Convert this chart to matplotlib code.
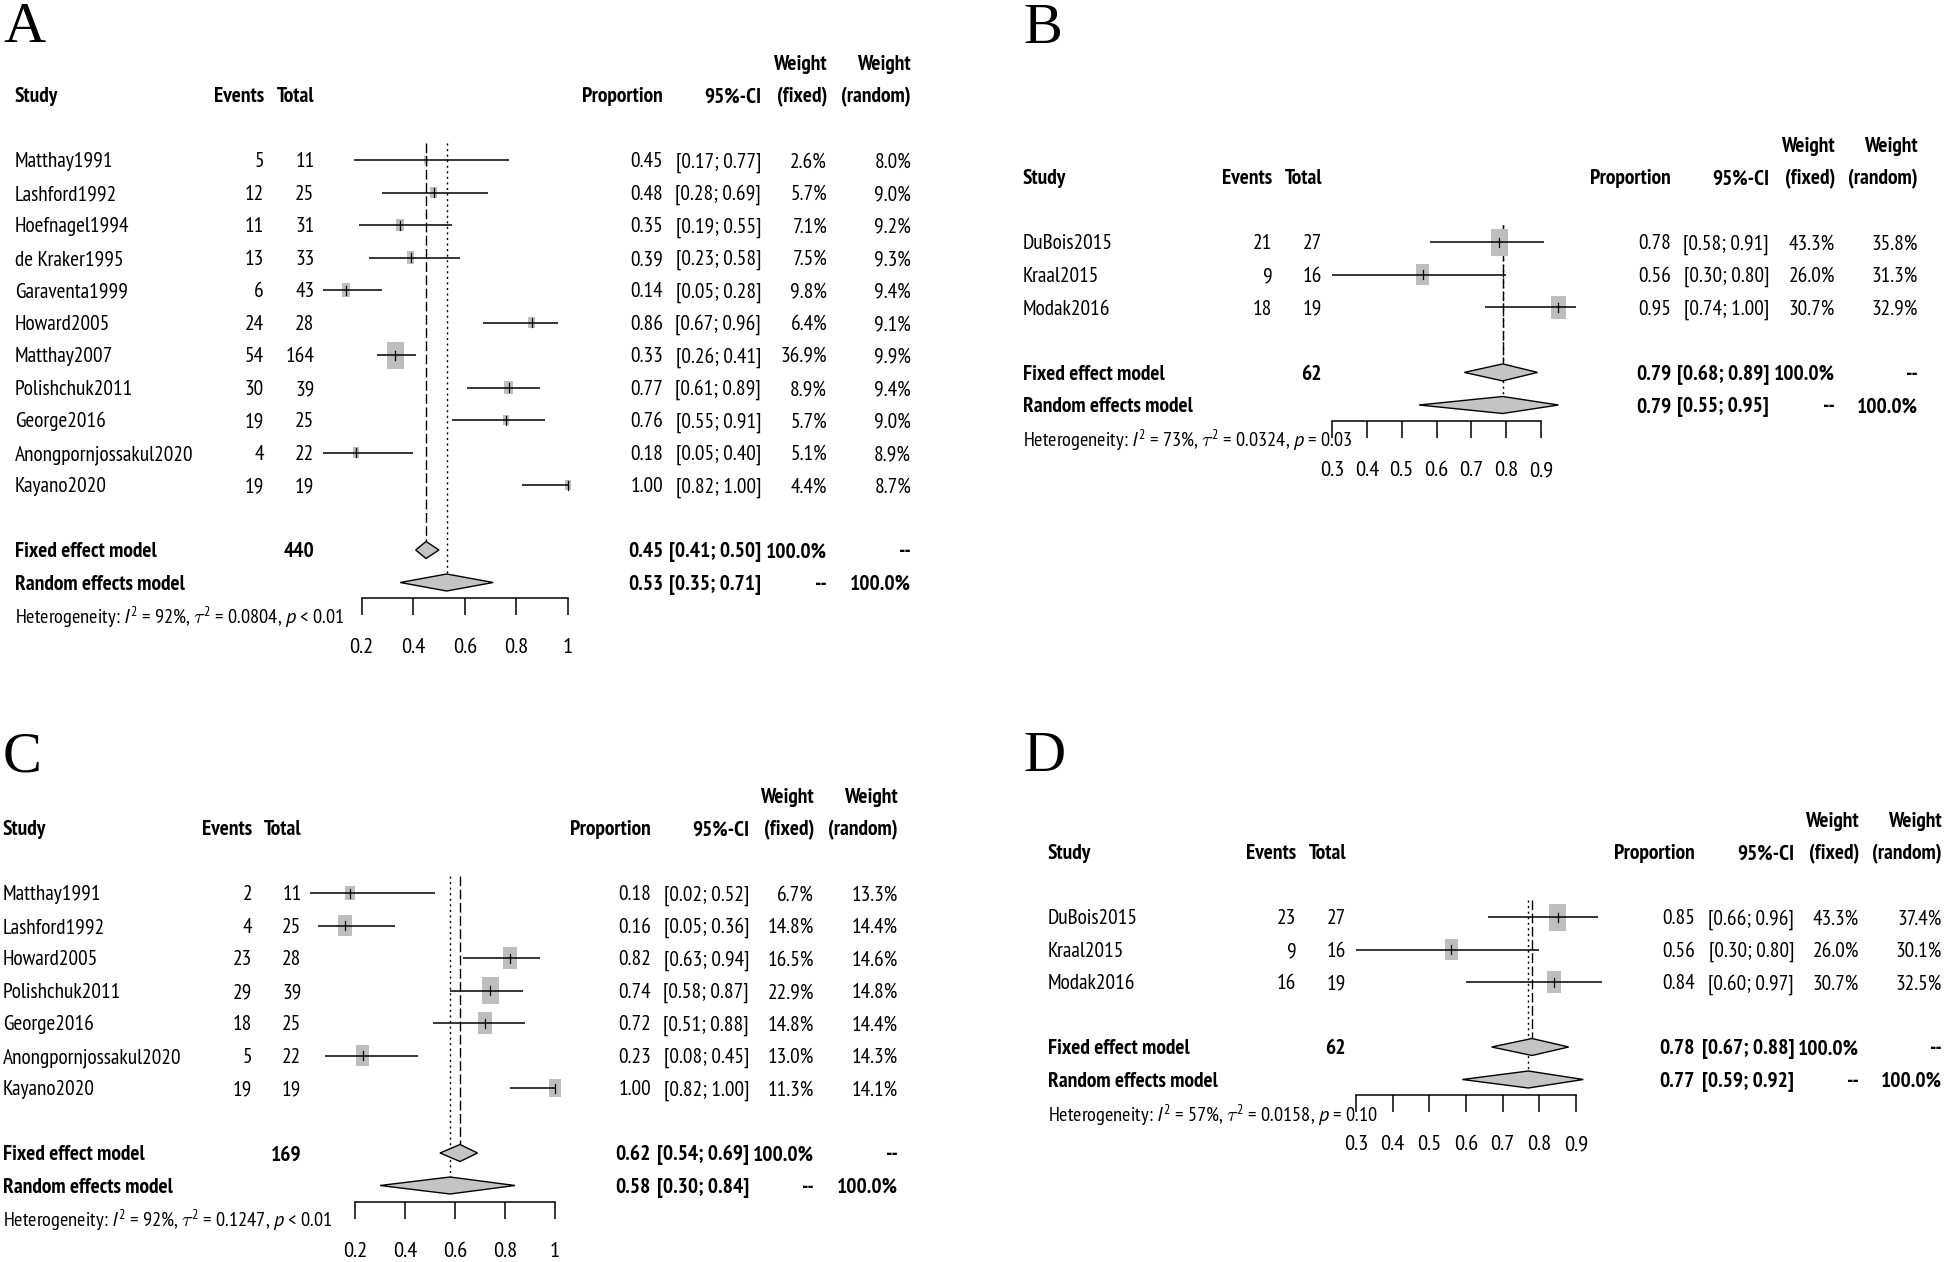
import numpy as np
import matplotlib
matplotlib.use("Agg")
import matplotlib.pyplot as plt
from matplotlib import font_manager
from matplotlib.font_manager import FontProperties, findfont
from matplotlib.ft2font import FT2Font
from matplotlib.patches import Rectangle, Polygon
import matplotlib.transforms as mtransforms

# ---------------- data ----------------
studies_A = ["Matthay1991", "Lashford1992", "Hoefnagel1994", "de Kraker1995", "Garaventa1999",
             "Howard2005", "Matthay2007", "Polishchuk2011", "George2016",
             "Anongpornjossakul2020", "Kayano2020"]
events_A = [5, 12, 11, 13, 6, 24, 54, 30, 19, 4, 19]
total_A = [11, 25, 31, 33, 43, 28, 164, 39, 25, 22, 19]
prop_A = [0.45, 0.48, 0.35, 0.39, 0.14, 0.86, 0.33, 0.77, 0.76, 0.18, 1.00]
lo_A = [0.17, 0.28, 0.19, 0.23, 0.05, 0.67, 0.26, 0.61, 0.55, 0.05, 0.82]
hi_A = [0.77, 0.69, 0.55, 0.58, 0.28, 0.96, 0.41, 0.89, 0.91, 0.40, 1.00]
wfix_A = [2.6, 5.7, 7.1, 7.5, 9.8, 6.4, 36.9, 8.9, 5.7, 5.1, 4.4]
wran_A = [8.0, 9.0, 9.2, 9.3, 9.4, 9.1, 9.9, 9.4, 9.0, 8.9, 8.7]
fixed_A = [0.45, 0.41, 0.50]
random_A = [0.53, 0.35, 0.71]
n_A = 440
het_A = ["92%", "0.0804", "< 0.01"]
ticks_A = [0.2, 0.4, 0.6, 0.8, 1.0]
ticklab_A = ["0.2", "0.4", "0.6", "0.8", "1"]

studies_B = ["DuBois2015", "Kraal2015", "Modak2016"]
events_B = [21, 9, 18]
total_B = [27, 16, 19]
prop_B = [0.78, 0.56, 0.95]
lo_B = [0.58, 0.30, 0.74]
hi_B = [0.91, 0.80, 1.00]
wfix_B = [43.3, 26.0, 30.7]
wran_B = [35.8, 31.3, 32.9]
fixed_B = [0.79, 0.68, 0.89]
random_B = [0.79, 0.55, 0.95]
n_B = 62
het_B = ["73%", "0.0324", "= 0.03"]
ticks_B = [0.3, 0.4, 0.5, 0.6, 0.7, 0.8, 0.9]
ticklab_B = ["0.3", "0.4", "0.5", "0.6", "0.7", "0.8", "0.9"]

studies_C = ["Matthay1991", "Lashford1992", "Howard2005", "Polishchuk2011", "George2016",
             "Anongpornjossakul2020", "Kayano2020"]
events_C = [2, 4, 23, 29, 18, 5, 19]
total_C = [11, 25, 28, 39, 25, 22, 19]
prop_C = [0.18, 0.16, 0.82, 0.74, 0.72, 0.23, 1.00]
lo_C = [0.02, 0.05, 0.63, 0.58, 0.51, 0.08, 0.82]
hi_C = [0.52, 0.36, 0.94, 0.87, 0.88, 0.45, 1.00]
wfix_C = [6.7, 14.8, 16.5, 22.9, 14.8, 13.0, 11.3]
wran_C = [13.3, 14.4, 14.6, 14.8, 14.4, 14.3, 14.1]
fixed_C = [0.62, 0.54, 0.69]
random_C = [0.58, 0.30, 0.84]
n_C = 169
het_C = ["92%", "0.1247", "< 0.01"]
ticks_C = [0.2, 0.4, 0.6, 0.8, 1.0]
ticklab_C = ["0.2", "0.4", "0.6", "0.8", "1"]

studies_D = ["DuBois2015", "Kraal2015", "Modak2016"]
events_D = [23, 9, 16]
total_D = [27, 16, 19]
prop_D = [0.85, 0.56, 0.84]
lo_D = [0.66, 0.30, 0.60]
hi_D = [0.96, 0.80, 0.97]
wfix_D = [43.3, 26.0, 30.7]
wran_D = [37.4, 30.1, 32.5]
fixed_D = [0.78, 0.67, 0.88]
random_D = [0.77, 0.59, 0.92]
n_D = 62
het_D = ["57%", "0.0158", "= 0.10"]
ticks_D = [0.3, 0.4, 0.5, 0.6, 0.7, 0.8, 0.9]
ticklab_D = ["0.3", "0.4", "0.5", "0.6", "0.7", "0.8", "0.9"]

# ---------------- font choice (narrow grotesque, like the original) ----------------
ttf = font_manager.fontManager.ttflist


def _w(v):
    return v if isinstance(v, int) else font_manager.weight_dict.get(v, 400)


def has_italic(name):
    return any(f.name == name and f.style in ('italic', 'oblique') for f in ttf)


def font_ratio(name):
    entries = [f for f in ttf if f.name == name and f.style == 'normal']
    if not entries:
        return None
    ws = {_w(f.weight) for f in entries}
    if not (any(w <= 450 for w in ws) and any(w >= 650 for w in ws)):
        return None
    try:
        path = findfont(FontProperties(family=name), fallback_to_default=False)
        ft = FT2Font(path)
        ft.set_size(100, 72)
        ft.set_text("Matthay1991", 0.0)
        wid = ft.get_width_height()[0] / 64.0
        g = ft.load_char(ord('H'))
        cap = g.height / 64.0
        return wid / cap, cap / 100.0
    except Exception:
        return None


TARGET = 98.7 / 17.7
candidates = ["Liberation Sans Narrow", "Roboto Condensed", "Pragati Narrow",
              "PT Sans Narrow", "Sofia Sans Condensed", "Fira Sans Condensed",
              "Asap Condensed"]
best = None
for nm in candidates:
    r = font_ratio(nm)
    if r is None:
        continue
    score = abs(r[0] - TARGET)
    if best is None or score < best[0]:
        best = (score, nm, r[1])
if best is None:
    SANS, CAP = "Liberation Sans", 0.688
else:
    SANS, CAP = best[1], best[2]

# italic face for I and p in the heterogeneity line
ITAL = SANS
if not has_italic(SANS):
    for alt in ["PT Sans", "Roboto Condensed", "Liberation Sans"]:
        if has_italic(alt):
            ITAL = alt
            break

plt.rcParams['font.family'] = [SANS, 'DejaVu Sans']
plt.rcParams['mathtext.fontset'] = 'custom'
plt.rcParams['mathtext.rm'] = SANS
plt.rcParams['mathtext.it'] = ITAL + ':italic'
plt.rcParams['mathtext.bf'] = SANS + ':bold'
plt.rcParams['mathtext.sf'] = SANS

W, H = 1944, 1262
fig = plt.figure(figsize=(W / 100, H / 100), dpi=100)
fig.patch.set_facecolor('white')
xref = mtransforms.Affine2D().scale(1.0 / W, 1.0 / H) + fig.transFigure


def het_string(het):
    return ("Heterogeneity: $I^2$ = " + het[0] + r", $\mathrm{\tau}^2$ = " + het[1]
            + ", $p$ " + het[2])


# calibrate sizes so the text widths match the original
renderer = fig.canvas.get_renderer()
_t = fig.text(0, 0, "Matthay1991", fontsize=10)
SZ = 10 * 98.7 / _t.get_window_extent(renderer).width
_t.remove()
_t = fig.text(0, 0, het_string(het_A), fontsize=10)
HSZ = 10 * 330.0 / _t.get_window_extent(renderer).width
_t.remove()
SZ = min(max(SZ, 10), 18)
HSZ = min(max(HSZ, 9), SZ)

GRAY = '#BEBEBE'
DGRAY = '#C4C4C4'


def draw_panel(letter, studies, events, totals, prop, lo, hi, wfix, wran,
               fixed, rand, ntot, het, ticks, ticklabs, L):
    n = len(studies)
    first, rp = L['first'], L['rowpx']
    axis_row = (L['axis_px'] - first) / rp
    top_row = -3.6
    v0, v1 = ticks[0], ticks[-1]
    x0, x1 = L['xv0'], L['xv1']
    ytop = first + top_row * rp
    ybot = L['axis_px']
    ax = fig.add_axes([x0 / W, 1 - ybot / H, (x1 - x0) / W, (ybot - ytop) / H])
    ax.set_xlim(v0, v1)
    ax.set_ylim(axis_row, top_row)
    ax.patch.set_visible(False)
    for s in ['top', 'left', 'right']:
        ax.spines[s].set_visible(False)
    ax.spines['bottom'].set_linewidth(1.1)
    ax.set_yticks([])
    ax.set_xticks(ticks, ticklabs)
    ax.tick_params(axis='x', direction='out', length=12, width=1.1, pad=17,
                   labelsize=SZ * 1.05)
    pxu = (x1 - x0) / (v1 - v0)

    tr = mtransforms.blended_transform_factory(xref, ax.transData)

    def T(x, row, s, ha='left', bold=False, size=SZ):
        t = mtransforms.offset_copy(tr, fig=fig, y=-CAP * size / 2.0, units='points')
        ax.text(x, row, s, transform=t, ha=ha, va='baseline', fontsize=size,
                fontweight='bold' if bold else 'normal', clip_on=False)

    C = L['cols']
    T(C['study'], -2, "Study", bold=True)
    T(C['events'], -2, "Events", ha='right', bold=True)
    T(C['total'], -2, "Total", ha='right', bold=True)
    T(C['prop'], -2, "Proportion", ha='right', bold=True)
    T(C['ci'], -2, "95%-CI", ha='right', bold=True)
    T(C['wf'], -2, "(fixed)", ha='right', bold=True)
    T(C['wr'], -2, "(random)", ha='right', bold=True)
    T(C['wf'], -3, "Weight", ha='right', bold=True)
    T(C['wr'], -3, "Weight", ha='right', bold=True)

    wmax = max(wfix)
    for i in range(n):
        T(C['study'], i, studies[i])
        T(C['events'], i, str(events[i]), ha='right')
        T(C['total'], i, str(totals[i]), ha='right')
        T(C['prop'], i, f"{prop[i]:.2f}", ha='right')
        T(C['ci'], i, f"[{lo[i]:.2f}; {hi[i]:.2f}]", ha='right')
        T(C['wf'], i, f"{wfix[i]:.1f}%", ha='right')
        T(C['wr'], i, f"{wran[i]:.1f}%", ha='right')
        s = np.sqrt(wfix[i] / wmax)
        bw = 17.0 / pxu * s
        bh = 27.0 / rp * s
        ax.add_patch(Rectangle((prop[i] - bw / 2, i - bh / 2), bw, bh,
                               facecolor=GRAY, edgecolor='none', clip_on=False, zorder=2))
        ax.plot([lo[i], hi[i]], [i, i], color='black', lw=1.1, clip_on=False, zorder=3,
                solid_capstyle='butt')
        ax.plot([prop[i], prop[i]], [i - 4.5 / rp, i + 4.5 / rp], color='black', lw=0.9,
                clip_on=False, zorder=3)

    rf, rr = n + 1, n + 2
    T(C['study'], rf, "Fixed effect model", bold=True)
    T(C['total'], rf, str(ntot), ha='right', bold=True)
    T(C['prop'], rf, f"{fixed[0]:.2f}", ha='right', bold=True)
    T(C['ci'], rf, f"[{fixed[1]:.2f}; {fixed[2]:.2f}]", ha='right', bold=True)
    T(C['wf'], rf, "100.0%", ha='right', bold=True)
    T(C['wr'], rf, "--", ha='right', bold=True)
    T(C['study'], rr, "Random effects model", bold=True)
    T(C['prop'], rr, f"{rand[0]:.2f}", ha='right', bold=True)
    T(C['ci'], rr, f"[{rand[1]:.2f}; {rand[2]:.2f}]", ha='right', bold=True)
    T(C['wf'], rr, "--", ha='right', bold=True)
    T(C['wr'], rr, "100.0%", ha='right', bold=True)

    hd = 8.5 / rp
    for row, (p, l, h) in ((rf, fixed), (rr, rand)):
        ax.add_patch(Polygon([(l, row), (p, row - hd), (h, row), (p, row + hd)],
                             closed=True, facecolor=DGRAY, edgecolor='black', lw=1.0,
                             clip_on=False, zorder=3))
    ytop_line = -17.5 / rp
    ax.plot([fixed[0], fixed[0]], [ytop_line, rf - hd], color='black', lw=1.0,
            linestyle=(0, (7, 2.5)), clip_on=False, zorder=1)
    ax.plot([rand[0], rand[0]], [ytop_line, rr - hd], color='black', lw=1.0,
            linestyle=(0, (1.5, 2.5)), clip_on=False, zorder=1)

    het_row = (L['het_px'] - first) / rp
    T(C['study'], het_row, het_string(het), size=HSZ)

    fig.text(L['letter'][0] / W, 1 - L['letter'][1] / H, letter,
             family=['Liberation Serif', 'DejaVu Serif'], fontsize=42, va='baseline', ha='left')
    return ax


L_A = dict(first=160, rowpx=32.5, axis_px=598, het_px=617, xv0=361.5, xv1=568,
           letter=(3, 42),
           cols=dict(study=15, events=264, total=314.5, prop=663, ci=761, wf=827, wr=911))
L_B = dict(first=242, rowpx=32.6, axis_px=421, het_px=440, xv0=1332, xv1=1541,
           letter=(1023, 43),
           cols=dict(study=1023, events=1272.5, total=1322, prop=1671, ci=1769, wf=1835, wr=1918))
L_C = dict(first=893, rowpx=32.5, axis_px=1202, het_px=1220, xv0=355, xv1=555,
           letter=(3, 771),
           cols=dict(study=3, events=252.5, total=301.5, prop=651, ci=749, wf=814, wr=898))
L_D = dict(first=917, rowpx=32.5, axis_px=1095, het_px=1115, xv0=1356, xv1=1576,
           letter=(1023, 771),
           cols=dict(study=1048, events=1296.5, total=1346, prop=1695, ci=1794, wf=1859, wr=1942))

draw_panel("A", studies_A, events_A, total_A, prop_A, lo_A, hi_A, wfix_A, wran_A,
           fixed_A, random_A, n_A, het_A, ticks_A, ticklab_A, L_A)
draw_panel("B", studies_B, events_B, total_B, prop_B, lo_B, hi_B, wfix_B, wran_B,
           fixed_B, random_B, n_B, het_B, ticks_B, ticklab_B, L_B)
draw_panel("C", studies_C, events_C, total_C, prop_C, lo_C, hi_C, wfix_C, wran_C,
           fixed_C, random_C, n_C, het_C, ticks_C, ticklab_C, L_C)
draw_panel("D", studies_D, events_D, total_D, prop_D, lo_D, hi_D, wfix_D, wran_D,
           fixed_D, random_D, n_D, het_D, ticks_D, ticklab_D, L_D)

fig.savefig("out.png", dpi=100, facecolor='white')
